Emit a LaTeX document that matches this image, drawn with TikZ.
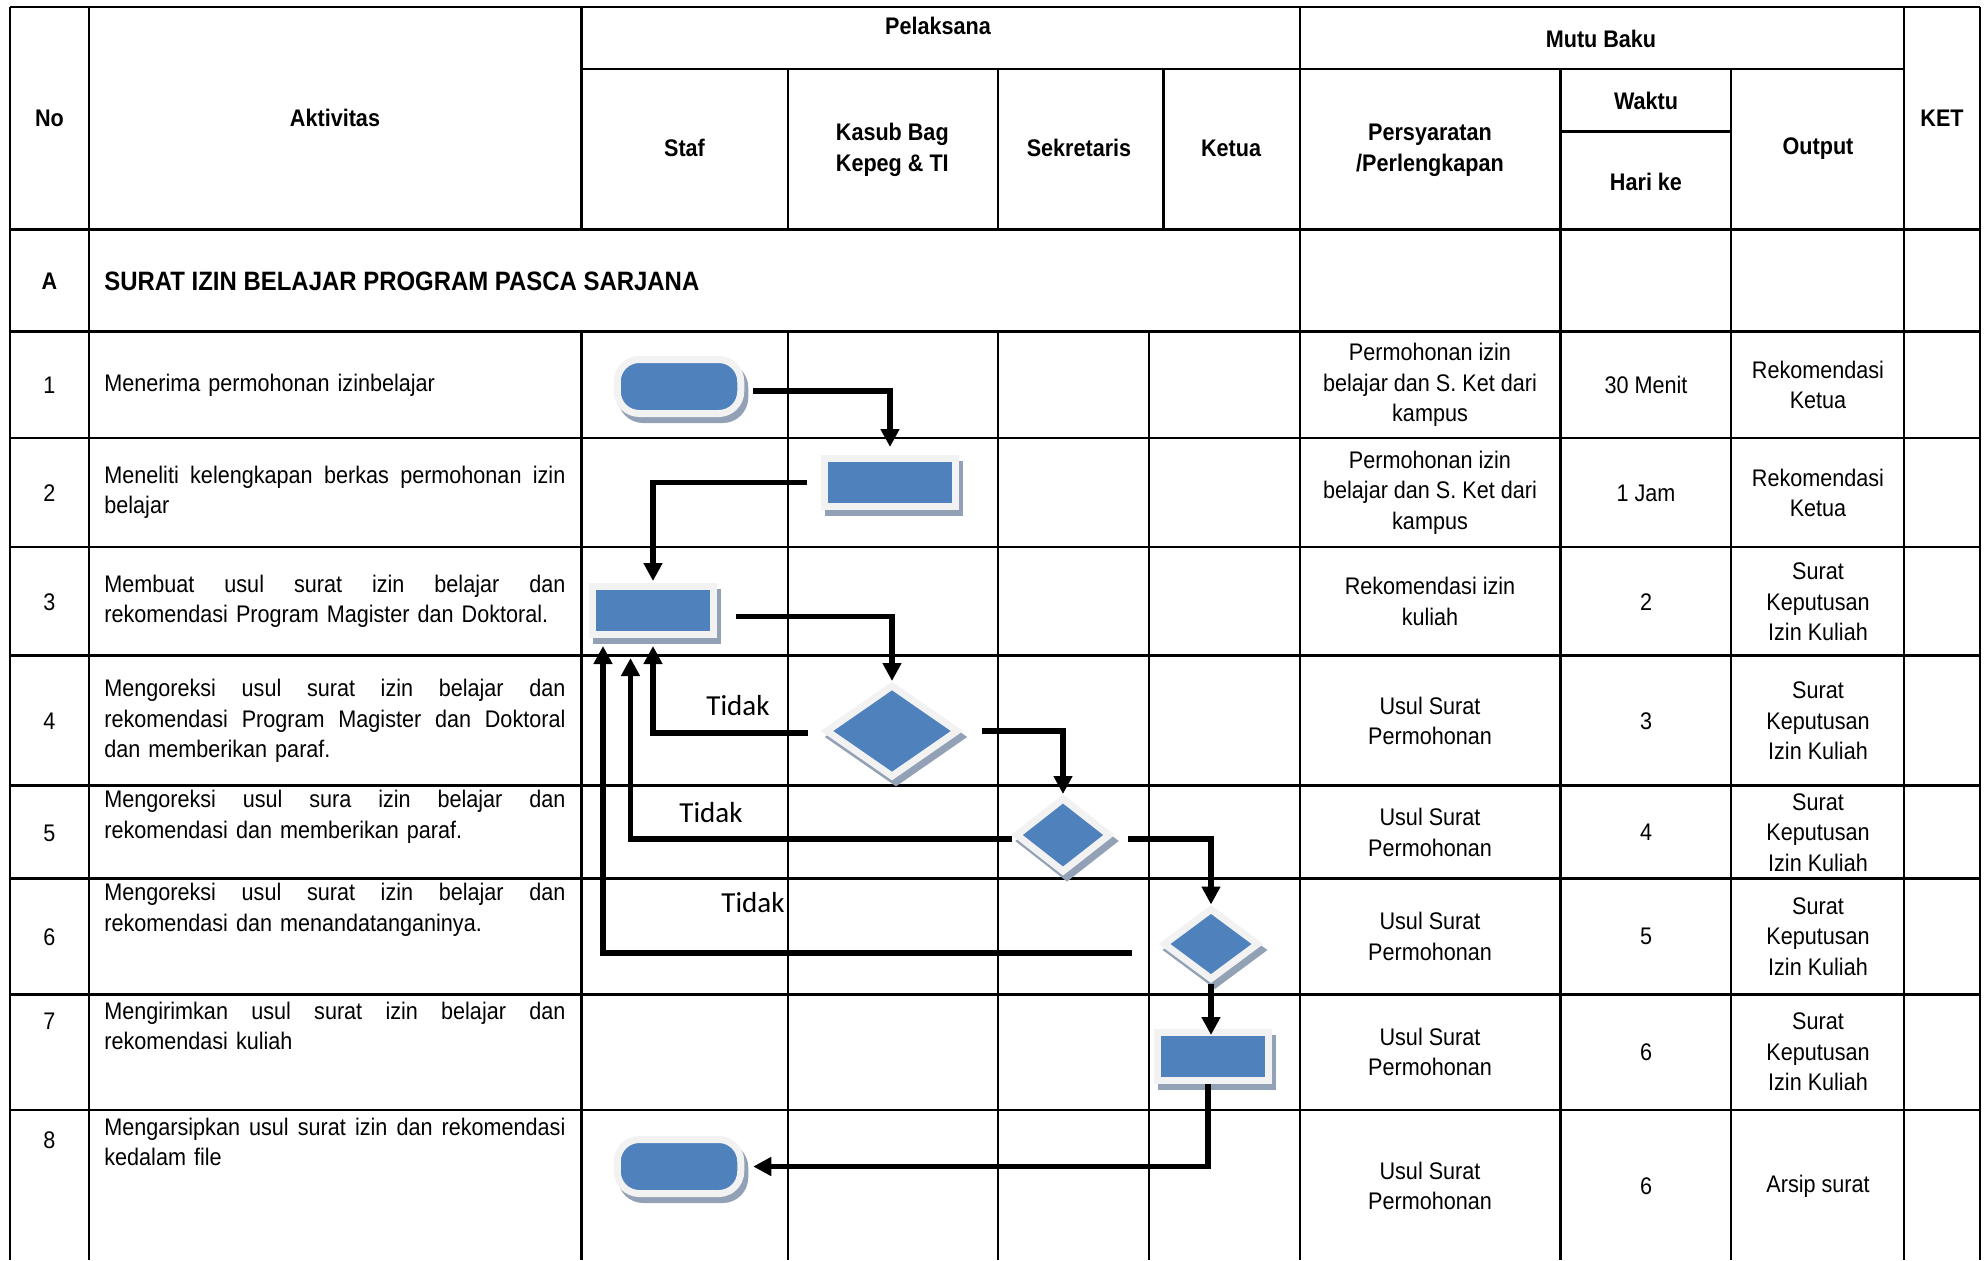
\documentclass[tikz,border=0pt]{standalone}
\usepackage{fontspec}
\setmainfont{Liberation Sans}[FakeStretch=0.9]
\newfontfamily\calfont{Carlito}
\usetikzlibrary{shapes.geometric,shadows,arrows.meta}
\definecolor{fcblue}{HTML}{4F81BD}
\definecolor{fcborder}{HTML}{F2F2F2}
\definecolor{fcshadow}{RGB}{146,161,182}
\newcommand\jl[1]{\leavevmode\hbox to 230.5pt{\spaceskip=0.28em plus 1fil\relax #1}}
\parindent=0pt
\begin{document}
\begin{tikzpicture}[x=0.5pt,y=-0.5pt,
  grid/.style={line width=1.4pt},
  hd/.style={font=\bfseries\fontsize{12}{15.3}\selectfont, inner sep=0pt, align=center},
  tx/.style={font=\fontsize{12}{15.25}\selectfont, inner sep=0pt, align=center},
  act/.style={font=\fontsize{12}{15.25}\selectfont, inner sep=0pt, text width=230.5pt, align=left, anchor=west},
  fcbox/.style={fill=fcblue, draw=fcborder, line width=3.5pt,
    drop shadow={shadow xshift=2pt, shadow yshift=-3pt, fill=fcshadow, draw=fcshadow, line width=3.5pt, opacity=1}},
  proc/.style={fcbox, rectangle, inner sep=0pt, minimum height=24pt},
  term/.style={fcbox, rectangle, rounded corners=11pt, inner sep=0pt, minimum width=61.75pt, minimum height=27pt},
  dec/.style={fcbox, diamond, inner sep=0pt},
  arr/.style={line width=2.8pt, -{Triangle[width=9pt,length=9pt]}},
  tidak/.style={font=\calfont\fontsize{14.5}{17}\selectfont, inner sep=0pt}
]
\useasboundingbox (0,0) rectangle (1987,1260);
\fill[white] (0,0) rectangle (1987,1260);

% ---------- grid ----------
\draw[grid] (10,7) -- (1980,7);
\draw[grid] (581.5,69) -- (1904,69);
\draw[grid] (1560.5,131.7) -- (1731,131.7);
\foreach \y in {229.7,331.7,438,547,655.7,785.8,878.8,994.7,1110}
  \draw[grid] (10,\y) -- (1980,\y);
\foreach \x in {10,89,1300,1904,1980}
  \draw[grid] (\x,7) -- (\x,1260);
\foreach \x in {1560.5,1731}
  \draw[grid] (\x,69) -- (\x,1260);
\draw[grid] (581.5,7) -- (581.5,229.7);
\foreach \x in {788,998,1163.5}
  \draw[grid] (\x,69) -- (\x,229.7);
\foreach \x in {581.5,788,998,1149}
  \draw[grid] (\x,331.7) -- (\x,1260);

% ---------- header ----------
\node[hd] (hNo) at (49.5,118) {No};
\node[hd] (hAkt) at (335,118) {Aktivitas};
\node[hd] (hPel) at (938,26) {Pelaksana};
\node[hd] (hMutu) at (1601,39) {Mutu Baku};
\node[hd] (hStaf) at (684.5,148) {Staf};
\node[hd, align=left, anchor=west] (hKasub) at (835.5,150) {Kasub Bag\\Kepeg \& TI};
\node[hd] (hSek) at (1079,148) {Sekretaris};
\node[hd] (hKet) at (1231,148) {Ketua};
\node[hd] (hPers) at (1430,150) {Persyaratan\\/Perlengkapan};
\node[hd] (hWaktu) at (1646,101) {Waktu};
\node[hd] (hHari) at (1646,182) {Hari ke};
\node[hd] (hOut) at (1818,149) {Output};
\node[hd] (hKet2) at (1942,118) {KET};

% ---------- row A ----------
\node[hd] (rA) at (49.5,281) {A};
\node[hd, font=\bfseries\fontsize{13.3}{16}\selectfont, anchor=west] (tA) at (104,281) {SURAT IZIN BELAJAR PROGRAM PASCA SARJANA};

% ---------- numbers ----------
\node[tx] (n1) at (49.5,385) {1};
\node[tx] (n2) at (49.5,493) {2};
\node[tx] (n3) at (49.5,602) {3};
\node[tx] (n4) at (49.5,721) {4};
\node[tx] (n5) at (49.5,833) {5};
\node[tx] (n6) at (49.5,937) {6};
\node[tx] (n7) at (49.5,1021.5) {7};
\node[tx] (n8) at (49.5,1140) {8};

% ---------- activities ----------
\node[act] (a1) at (104,385) {Menerima permohonan izinbelajar};
\node[act] (a2) at (104,492.4) {\jl{Meneliti kelengkapan berkas permohonan izin}\\belajar};
\node[act] (a3) at (104,601.2) {\jl{Membuat usul surat izin belajar dan}\\rekomendasi Program Magister dan Doktoral.};
\node[act] (a4) at (104,721) {\jl{Mengoreksi usul surat izin belajar dan}\\\jl{rekomendasi Program Magister dan Doktoral}\\dan memberikan paraf.};
\node[act] (a5) at (104,816.7) {\jl{Mengoreksi usul sura izin belajar dan}\\rekomendasi dan memberikan paraf.};
\node[act] (a6) at (104,909.8) {\jl{Mengoreksi usul surat izin belajar dan}\\rekomendasi dan menandatanganinya.};
\node[act] (a7) at (104,1026) {\jl{Mengirimkan usul surat izin belajar dan}\\rekomendasi kuliah};
\node[act] (a8) at (104,1141.7) {\jl{Mengarsipkan usul surat izin dan rekomendasi}\\kedalam file};

% ---------- persyaratan / waktu / output ----------
\node[tx] (p1) at (1430,385) {Permohonan izin\\belajar dan S. Ket dari\\kampus};
\node[tx] (w1) at (1646,385) {30 Menit};
\node[tx] (o1) at (1818,385) {Rekomendasi\\Ketua};
\node[tx] (p2) at (1430,492.5) {Permohonan izin\\belajar dan S. Ket dari\\kampus};
\node[tx] (w2) at (1646,493) {1 Jam};
\node[tx] (o2) at (1818,493) {Rekomendasi\\Ketua};
\node[tx] (p3) at (1430,601.5) {Rekomendasi izin\\kuliah};
\node[tx] (w3) at (1646,602) {2};
\node[tx] (o3) at (1818,602) {Surat\\Keputusan\\Izin Kuliah};
\node[tx] (p4) at (1430,721) {Usul Surat\\Permohonan};
\node[tx] (w4) at (1646,721) {3};
\node[tx] (o4) at (1818,721) {Surat\\Keputusan\\Izin Kuliah};
\node[tx] (p5) at (1430,832.5) {Usul Surat\\Permohonan};
\node[tx] (w5) at (1646,832.5) {4};
\node[tx] (o5) at (1818,832.5) {Surat\\Keputusan\\Izin Kuliah};
\node[tx] (p6) at (1430,936.5) {Usul Surat\\Permohonan};
\node[tx] (w6) at (1646,936.5) {5};
\node[tx] (o6) at (1818,936.5) {Surat\\Keputusan\\Izin Kuliah};
\node[tx] (p7) at (1430,1052) {Usul Surat\\Permohonan};
\node[tx] (w7) at (1646,1052) {6};
\node[tx] (o7) at (1818,1052) {Surat\\Keputusan\\Izin Kuliah};
\node[tx] (p8) at (1430,1186) {Usul Surat\\Permohonan};
\node[tx] (w8) at (1646,1186) {6};
\node[tx] (o8) at (1818,1186) {Arsip surat};

% ---------- flowchart shapes ----------
\node[term] (T1) at (679,386.5) {};
\node[proc, minimum width=65.5pt] (P2) at (890,482.5) {};
\node[proc, minimum width=60.5pt] (P3) at (653,610.5) {};
\node[dec, minimum width=66.5pt, minimum height=46.5pt] (D4) at (892,731) {};
\node[dec, minimum width=47.5pt, minimum height=37.5pt] (D5) at (1063,835) {};
\node[dec, minimum width=48pt, minimum height=36pt] (D6) at (1211,944) {};
\node[proc, minimum width=55.5pt] (P7) at (1213,1056.5) {};
\node[term] (T8) at (679,1166.5) {};

% ---------- connectors ----------
\draw[arr, shorten <=4.5pt, shorten >=4pt] ([yshift=-2.25pt]T1.east) -| (P2.north);
\draw[arr, shorten <=7pt, shorten >=1pt] (P2.west) -| (P3.north);
\draw[arr, shorten <=9.5pt] ([yshift=-3pt]P3.east) -| (D4.north);
\draw[arr, shorten <=10pt] (D4.east) -| (D5.north);
\draw[arr, shorten <=7pt, shorten >=4pt] ([yshift=-1pt]D4.west) -| (P3.south);
\draw[arr, shorten <=7pt] ([yshift=-2pt]D5.east) -| (D6.north);
\draw[arr, shorten >=10pt] ([yshift=-2pt]D5.west) -| ([xshift=-11.25pt]P3.south);
\draw[arr, shorten <=14pt, shorten >=4pt] ([yshift=-4.5pt]D6.west) -| ([xshift=-25pt]P3.south);
\draw[arr, shorten >=-3pt] (D6.south) -- (D6.south |- P7.north);
\draw[arr, shorten >=4.5pt] ([xshift=-2.5pt]P7.south) |- (T8.east);

% ---------- labels ----------
\node[tidak] (t1) at (738,706) {Tidak};
\node[tidak] (t2) at (711,813) {Tidak};
\node[tidak] (t3) at (753,903) {Tidak};
\end{tikzpicture}
\end{document}
